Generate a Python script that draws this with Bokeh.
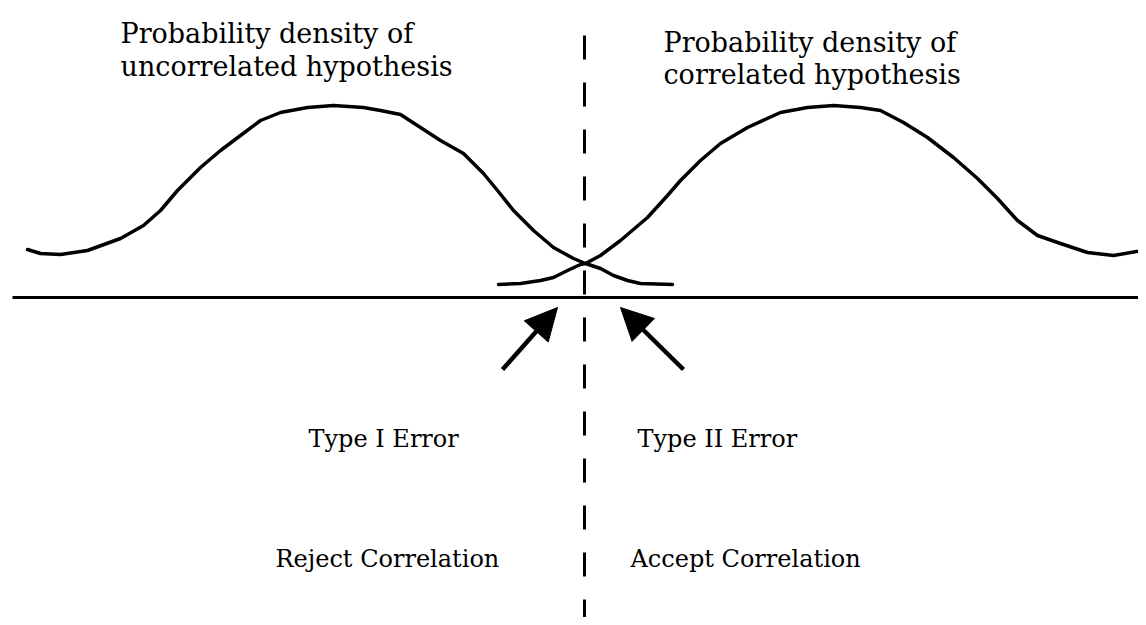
from bokeh.plotting import figure
from bokeh.models import Range1d, Arrow, NormalHead, ColumnDataSource
from bokeh.core.properties import value
from bokeh.embed import file_html
from bokeh.resources import INLINE

# Curve of the uncorrelated hypothesis (x position, height above baseline)
uncorr_x = [27, 40, 60, 87, 120, 143, 160, 177, 200, 220, 240, 260, 280, 307, 333, 363,
            380, 400, 420, 440, 463, 483, 497, 513, 533, 553, 573, 585, 600, 613, 627, 640, 672]
uncorr_y = [48, 44, 43, 47, 59, 72, 87, 107, 130, 147, 162, 177, 185, 190, 192, 190,
            187, 183, 170, 157, 144, 124, 107, 87, 67, 50, 39, 34, 29, 22, 17, 14, 13]

# Curve of the correlated hypothesis
corr_x = [498, 520, 540, 553, 567, 580, 585, 600, 620, 647, 667, 680, 700, 720, 747, 780,
          807, 833, 860, 880, 903, 927, 953, 977, 997, 1017, 1037, 1060, 1087, 1113, 1142]
corr_y = [13, 14, 17, 20, 27, 33, 34, 42, 57, 80, 102, 117, 137, 154, 170, 185,
          190, 192, 190, 187, 175, 160, 140, 119, 99, 77, 62, 54, 45, 42, 47]

# Baseline (horizontal axis) and decision threshold
base_x = [12, 1146]
base_y = [0, 0]
thresh_x = [584, 584]
thresh_y = [262, -330]

# Error arrows
arrow_x0 = [502, 683]
arrow_y0 = [-72, -72]
arrow_x1 = [557, 620]
arrow_y1 = [-10, -10]

# Labels
top_text = ["Probability density of", "uncorrelated hypothesis",
            "Probability density of", "correlated hypothesis"]
top_x = [120, 120, 663, 663]
top_y = [264, 231, 255, 223]

bottom_text = ["Type I Error", "Type II Error", "Reject Correlation", "Accept Correlation"]
bottom_x = [308, 637, 275, 630]
bottom_y = [-141, -141, -261, -261]

p = figure(width=1138, height=617, output_backend="svg", toolbar_location=None,
           x_range=Range1d(0, 1138), y_range=Range1d(-320, 297),
           min_border=0, outline_line_color=None)
p.xaxis.visible = False
p.yaxis.visible = False
p.xgrid.visible = False
p.ygrid.visible = False

p.line(base_x, base_y, line_color="black", line_width=3)
p.line(thresh_x, thresh_y, line_color="black", line_width=3, line_dash="24 23")
p.line(uncorr_x, uncorr_y, line_color="black", line_width=3.5, line_join="round", line_cap="round")
p.line(corr_x, corr_y, line_color="black", line_width=3.5, line_join="round", line_cap="round")

arr_src = ColumnDataSource(dict(x0=arrow_x0, y0=arrow_y0, x1=arrow_x1, y1=arrow_y1))
p.add_layout(Arrow(end=NormalHead(size=32, fill_color="black", line_color="black"),
                   x_start="x0", y_start="y0", x_end="x1", y_end="y1",
                   source=arr_src, line_width=4.5, line_color="black"))

p.text(x=top_x, y=top_y, text=top_text, text_font=value("DejaVu Serif"),
       text_font_size="27px", text_baseline="alphabetic", text_align="left",
       text_color="black")
p.text(x=bottom_x, y=bottom_y, text=bottom_text, text_font=value("DejaVu Serif"),
       text_font_size="24px", text_baseline="alphabetic", text_align="left",
       text_color="black")

open("out.html", "w").write(file_html(p, INLINE))
